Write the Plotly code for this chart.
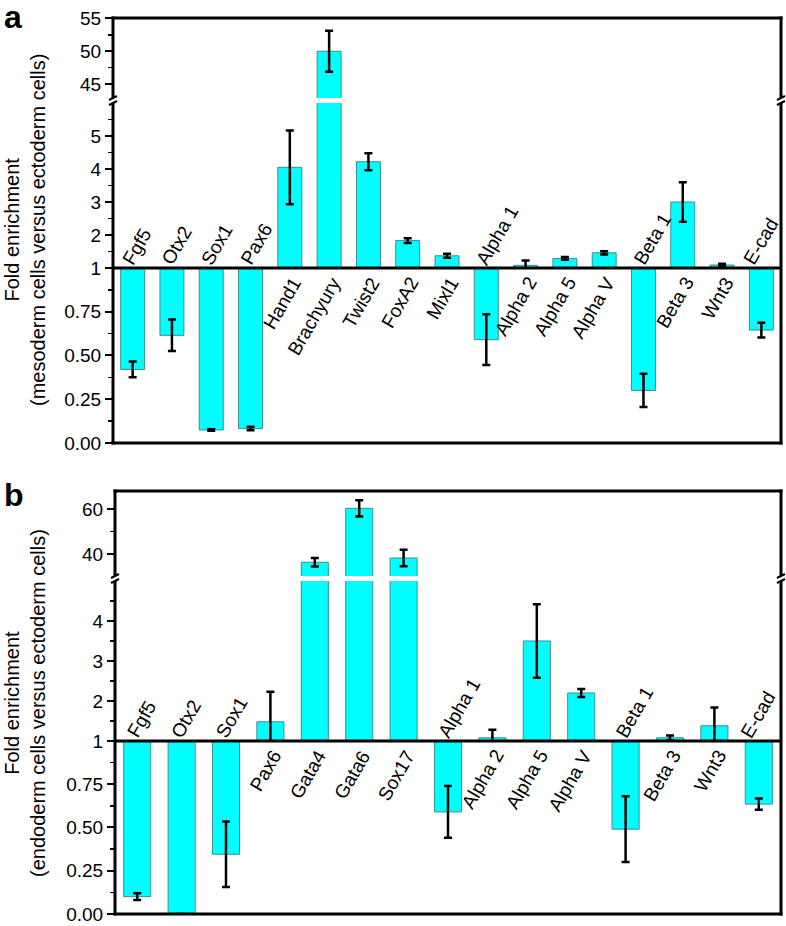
import plotly.graph_objects as go

W, H = 786, 926

# ---------------- data ----------------
genes_a = ["Fgf5", "Otx2", "Sox1", "Pax6", "Hand1", "Brachyury", "Twist2", "FoxA2",
           "Mixl1", "Alpha 1", "Alpha 2", "Alpha 5", "Alpha V", "Beta 1", "Beta 3",
           "Wnt3", "E-cad"]
fold_a = [0.42, 0.615, 0.074, 0.082, 4.05, 50.0, 4.22, 1.83, 1.37, 0.59, 1.08, 1.29,
          1.46, 0.30, 3.0, 1.09, 0.645]
err_a = [0.045, 0.09, 0.004, 0.01, 1.12, 3.1, 0.26, 0.07, 0.06, 0.145, 0.15, 0.04,
         0.05, 0.095, 0.6, 0.04, 0.042]

genes_b = ["Fgf5", "Otx2", "Sox1", "Pax6", "Gata4", "Gata6", "Sox17", "Alpha 1",
           "Alpha 2", "Alpha 5", "Alpha V", "Beta 1", "Beta 3", "Wnt3", "E-cad"]
fold_b = [0.10, 0.0, 0.345, 1.48, 36.3, 60.3, 38.2, 0.59, 1.08, 3.5, 2.2, 0.49, 1.08,
          1.38, 0.635]
err_b = [0.02, 0.0, 0.19, 0.75, 1.9, 3.6, 3.7, 0.15, 0.2, 0.92, 0.1, 0.19, 0.06, 0.46,
         0.033]

ticks_low = [0, 0.25, 0.5, 0.75]
ticks_low_text = ["0.00", "0.25", "0.50", "0.75"]
ticks_mid_a = [1, 2, 3, 4, 5]
ticks_top_a = [45, 50, 55]
ticks_mid_b = [1, 2, 3, 4]
ticks_top_b = [40, 60]

title_a = "Fold enrichment<br>(mesoderm cells versus ectoderm cells)"
title_b = "Fold enrichment<br>(endoderm cells versus ectoderm cells)"

FONT = "Liberation Sans, Arial, Helvetica, sans-serif"
BAR = "#00FFFF"
EDGE = "#3C8F8F"
ANG = -60


def px(x):
    return x / W


def py(y):
    return 1 - y / H


fig = go.Figure()


def hline(x0, x1, y, t=3):
    fig.add_shape(type="rect", xref="paper", yref="paper", layer="above",
                  x0=px(x0), x1=px(x1), y0=py(y - t / 2), y1=py(y + t / 2),
                  fillcolor="black", line=dict(width=0))


def vline(x, y0, y1, t=3):
    fig.add_shape(type="rect", xref="paper", yref="paper", layer="above",
                  x0=px(x - t / 2), x1=px(x + t / 2), y0=py(y0), y1=py(y1),
                  fillcolor="black", line=dict(width=0))


def add_panel(genes, fold, err, xa, ya, xdom, seg, ranges, ticks, minors, title, title_y, letter, letter_y):
    xname = "xaxis" if xa == 1 else f"xaxis{xa}"
    xref = "x" if xa == 1 else f"x{xa}"
    yrefs = []
    for k in range(3):
        yi = ya + k
        yname = "yaxis" if yi == 1 else f"yaxis{yi}"
        yref = "y" if yi == 1 else f"y{yi}"
        yrefs.append(yref)
        tv, tt = ticks[k]
        fig.layout[yname] = dict(
            domain=[py(seg[k][0]), py(seg[k][1])], range=ranges[k], anchor=xref,
            tickvals=tv, ticktext=tt, ticks="outside", ticklen=7, tickwidth=2,
            tickcolor="black", showgrid=False, zeroline=False, showline=False,
            automargin=False, ticklabeloverflow="allow",
            tickfont=dict(family=FONT, size=19, color="black"),
            minor=dict(tickvals=minors[k], ticks="outside", ticklen=4, tickwidth=1.5,
                       tickcolor="black", showgrid=False),
        )
    fig.layout[xname] = dict(
        domain=[px(xdom[0]), px(xdom[1])], anchor=yrefs[0], type="category",
        categoryorder="array", categoryarray=genes, range=[-0.5, len(genes) - 0.5],
        showticklabels=False, ticks="", showgrid=False, zeroline=False, showline=False,
        automargin=False,
    )
    for k, yref in enumerate(yrefs):
        if k == 0:
            sel = [v < 1 for v in fold]
        else:
            sel = [v >= 1 for v in fold]
        yy = [(v - 1) if s else None for v, s in zip(fold, sel)]
        ee = [e if s else 0 for e, s in zip(err, sel)]
        fig.add_trace(go.Bar(
            x=genes, y=yy, base=1, width=0.61, xaxis=xref, yaxis=yref,
            marker=dict(color=BAR, line=dict(color=EDGE, width=1)),
            error_y=dict(type="data", array=ee, color="black", thickness=2.5, width=4),
            showlegend=False, hoverinfo="skip",
        ))
    # gene labels
    n = len(genes)
    for i, (g, v) in enumerate(zip(genes, fold)):
        extra = -8 if i == n - 1 else 0
        if v < 1:
            fig.add_annotation(x=g, y=1, xref=xref, yref=yrefs[1], text=g, showarrow=False,
                               textangle=ANG, xanchor="left", yanchor="bottom",
                               xshift=-17 + extra, yshift=-3,
                               font=dict(family=FONT, size=19, color="black"))
        else:
            fig.add_annotation(x=g, y=1, xref=xref, yref=yrefs[0], text=g, showarrow=False,
                               textangle=ANG, xanchor="right", yanchor="top",
                               xshift=18, yshift=-3,
                               font=dict(family=FONT, size=19, color="black"))
    # frame
    L, R = xdom
    top, bot = seg[2][1], seg[0][0]
    brk_hi, brk_lo = seg[2][0], seg[1][1]
    hline(L - 1.5, R + 1.5, top)
    hline(L - 1.5, R + 1.5, bot)
    hline(L, R, seg[0][1])
    for xx in (L, R):
        vline(xx, top - 1.5, brk_hi)
        vline(xx, brk_lo, bot + 1.5)
        for dy in (brk_hi, brk_lo):
            fig.add_shape(type="line", xref="paper", yref="paper", layer="above",
                          x0=px(xx - 4), x1=px(xx + 4), y0=py(dy + 2), y1=py(dy - 2),
                          line=dict(color="black", width=2))
    fig.add_annotation(x=px(25), y=py(title_y), xref="paper", yref="paper", text=title,
                       textangle=-90, showarrow=False, xanchor="center", yanchor="middle",
                       font=dict(family=FONT, size=20, color="black"))
    fig.add_annotation(x=px(2), y=py(letter_y), xref="paper", yref="paper",
                       text=f"<b>{letter}</b>", showarrow=False, xanchor="left", yanchor="middle",
                       font=dict(family=FONT, size=32, color="black"))


add_panel(genes_a, fold_a, err_a, 1, 1, (113, 781),
          [(443, 268), (268, 103), (98, 18)],
          [[-0.0005, 1.0], [0.9995, 6.0], [42.9, 55.05]],
          [(ticks_low, ticks_low_text), (ticks_mid_a, [str(t) for t in ticks_mid_a]),
           (ticks_top_a, [str(t) for t in ticks_top_a])],
          [[0.125, 0.375, 0.625, 0.875], [1.5, 2.5, 3.5, 4.5, 5.5], [47.5, 52.5]],
          title_a, 230, "a", 17)

add_panel(genes_b, fold_b, err_b, 2, 4, (115, 781),
          [(914, 741), (741, 581), (576, 491)],
          [[-0.0005, 1.0], [0.9995, 5.0], [30.2, 68]],
          [(ticks_low, ticks_low_text), (ticks_mid_b, [str(t) for t in ticks_mid_b]),
           (ticks_top_b, [str(t) for t in ticks_top_b])],
          [[0.125, 0.375, 0.625, 0.875], [1.5, 2.5, 3.5, 4.5], [50]],
          title_b, 703, "b", 495)

fig.update_layout(
    template="none",
    width=W, height=H, margin=dict(l=0, r=0, t=0, b=0, pad=0, autoexpand=False),
    paper_bgcolor="white", plot_bgcolor="white", showlegend=False,
    barmode="overlay",
)

fig.write_html("out.html", config={"displayModeBar": False, "staticPlot": True},
               post_script="document.body.style.margin='0px';document.body.style.overflow='hidden';")
